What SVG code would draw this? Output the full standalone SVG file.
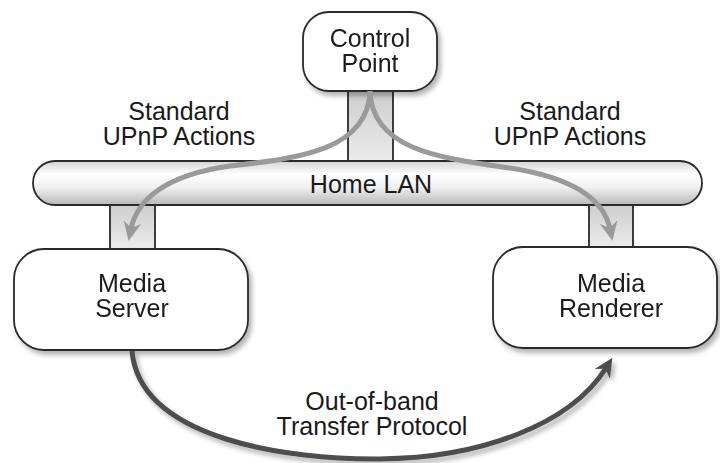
<svg xmlns="http://www.w3.org/2000/svg" width="720" height="463" viewBox="0 0 720 463">
  <defs>
    <style>
      .lbl { font-family: "Liberation Sans", Arial, Helvetica, sans-serif; font-size: 25px; fill: #1a1a1a; text-anchor: middle; }
      .box { fill: #ffffff; stroke: #2a2a2a; stroke-width: 1.8; }
      .stub { fill: url(#stubFill); stroke: none; }
      .stubEdge { stroke: #2a2a2a; stroke-width: 1.8; fill: none; }
      .action { fill: none; stroke: #9a9a9a; stroke-width: 5; stroke-linecap: butt; }
      .transfer { fill: none; stroke: #4e4e4e; stroke-width: 5; stroke-linecap: butt; }
    </style>
    <linearGradient id="pipeFill" x1="0" y1="0" x2="0" y2="1">
      <stop offset="0" stop-color="#d4d4d4"/>
      <stop offset="0.3" stop-color="#ffffff"/>
      <stop offset="0.6" stop-color="#f0f0f0"/>
      <stop offset="1" stop-color="#b8b8b8"/>
    </linearGradient>
    <linearGradient id="stubFill" x1="0" y1="0" x2="0" y2="1">
      <stop offset="0" stop-color="#cdcdcd"/>
      <stop offset="1" stop-color="#ececec"/>
    </linearGradient>
    <filter id="softShadow" x="-10%" y="-10%" width="125%" height="130%">
      <feGaussianBlur in="SourceAlpha" stdDeviation="2.5"/>
      <feOffset dx="3" dy="4" result="b"/>
      <feComponentTransfer><feFuncA type="linear" slope="0.3"/></feComponentTransfer>
      <feMerge><feMergeNode/><feMergeNode in="SourceGraphic"/></feMerge>
    </filter>
    <marker id="headGray" viewBox="-20 -10 22 20" refX="-12" refY="0" markerWidth="22" markerHeight="20" markerUnits="userSpaceOnUse" orient="auto">
      <path d="M0,0 L-19,-9 L-13,0 L-19,9 Z" fill="#9a9a9a"/>
    </marker>
    <marker id="headDark" viewBox="-20 -10 22 20" refX="-12" refY="0" markerWidth="22" markerHeight="20" markerUnits="userSpaceOnUse" orient="auto">
      <path d="M0,0 L-19,-9 L-13,0 L-19,9 Z" fill="#4e4e4e"/>
    </marker>
  </defs>

  <rect width="720" height="463" fill="#ffffff"/>

  <!-- drops between nodes and the LAN -->
  <g id="drops">
    <rect class="stub" x="348" y="90" width="45" height="72"/>
    <path class="stubEdge" d="M348,90 V162 M393,90 V162"/>
    <rect class="stub" x="110" y="204" width="45" height="46"/>
    <path class="stubEdge" d="M110,204 V250 M155,204 V250"/>
    <rect class="stub" x="589" y="204" width="44" height="44"/>
    <path class="stubEdge" d="M589,204 V248 M633,204 V248"/>
  </g>

  <g id="home-lan">
    <rect x="33" y="161" width="669" height="44" rx="22" ry="22" fill="url(#pipeFill)" stroke="#2a2a2a" stroke-width="1.8"/>
    <text class="lbl" x="371" y="193">Home LAN</text>
  </g>

  <g id="control-point" filter="url(#softShadow)">
    <rect class="box" x="303" y="12" width="134" height="79" rx="26" ry="26"/>
    <text class="lbl" x="370" y="47">Control</text>
    <text class="lbl" x="370" y="72">Point</text>
  </g>

  <g id="media-server" filter="url(#softShadow)">
    <rect class="box" x="14" y="249" width="234" height="101" rx="30" ry="30"/>
    <text class="lbl" x="132" y="292">Media</text>
    <text class="lbl" x="132" y="317">Server</text>
  </g>

  <g id="media-renderer" filter="url(#softShadow)">
    <rect class="box" x="493" y="247" width="224" height="101" rx="30" ry="30"/>
    <text class="lbl" x="611" y="292">Media</text>
    <text class="lbl" x="611" y="317">Renderer</text>
  </g>

  <g id="connectors">
    <path class="action" d="M370,91 C368,150 300,158 230,166 C165,175 137,200 131,229" marker-end="url(#headGray)"/>
    <path class="action" d="M370,91 C372,150 440,158 510,168 C575,178 604,200 610,229" marker-end="url(#headGray)"/>
    <path class="transfer" filter="url(#softShadow)" d="M132,351 C140,440 290,460 380,459 C480,458 570,425 606,368" marker-end="url(#headDark)"/>
  </g>

  <g id="labels">
    <text class="lbl" x="179" y="120">Standard</text>
    <text class="lbl" x="179" y="145">UPnP Actions</text>
    <text class="lbl" x="570" y="120">Standard</text>
    <text class="lbl" x="570" y="145">UPnP Actions</text>
    <text class="lbl" x="372" y="410">Out-of-band</text>
    <text class="lbl" x="372" y="435">Transfer Protocol</text>
  </g>
</svg>
